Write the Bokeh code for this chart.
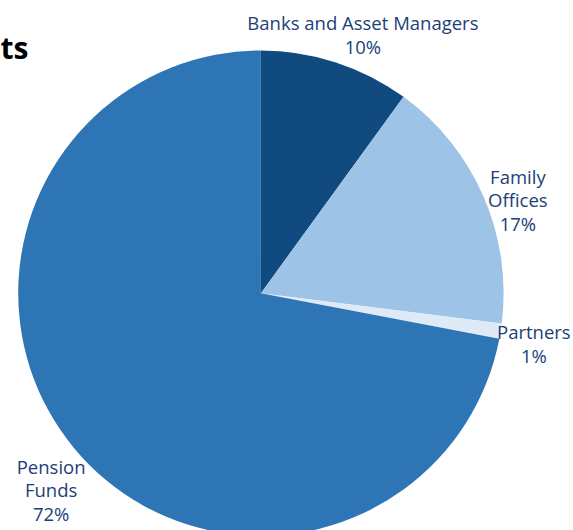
import math
from bokeh.plotting import figure
from bokeh.models import Range1d, ColumnDataSource
from bokeh.core.properties import value
from bokeh.embed import file_html
from bokeh.resources import INLINE

# ---- data ----
categories = ["Banks and Asset Managers", "Family Offices", "Partners", "Pension Funds"]
label_names = ["Banks and Asset Managers", "Family\nOffices", "Partners", "Pension\nFunds"]
values = [10, 17, 1, 72]
colors = ["#114A7F", "#9DC3E6", "#DEEBF7", "#2E75B6"]
title_text = "ts"

# ---- layout ----
W, H = 573, 530
PAGE_H = 530
cx, cy = 260.4, PAGE_H - 292.7
R = 242.7
R_LABEL = 280
label_nudge = [(15.5, -7.6), (0, -18), (-3.6, -6.5), (6, -18)]

total = float(sum(values))
starts, ends, lx, ly, texts = [], [], [], [], []
c0 = 0.0
for i, v in enumerate(values):
    c1 = c0 + v / total
    starts.append(math.pi / 2 - 2 * math.pi * c1)
    ends.append(math.pi / 2 - 2 * math.pi * c0)
    mid = math.pi / 2 - 2 * math.pi * (c0 + c1) / 2
    lx.append(cx + R_LABEL * math.cos(mid) + label_nudge[i][0])
    ly.append(cy + R_LABEL * math.sin(mid) + label_nudge[i][1])
    texts.append(f"{label_names[i]}\n{v}%")
    c0 = c1

src = ColumnDataSource(dict(start=starts, end=ends, color=colors, cat=categories))
lab = ColumnDataSource(dict(x=lx, y=ly, text=texts))

p = figure(width=W, height=H, output_backend="svg", toolbar_location=None,
           x_range=Range1d(0, W), y_range=Range1d(PAGE_H - H, PAGE_H),
           min_border=0, outline_line_color=None)
p.axis.visible = False
p.grid.visible = False
p.background_fill_color = "white"
p.border_fill_color = "white"

p.wedge(x=cx, y=cy, radius=R, start_angle="start", end_angle="end",
        fill_color="color", line_color=None, source=src)

p.text(x="x", y="y", text="text", source=lab, text_align="center",
       text_baseline="middle", text_font=value("Open Sans"),
       text_font_size="18.5px", text_color="#213E78", text_line_height=0.94)

p.text(x=[0], y=[PAGE_H - 47], text=[title_text], text_align="left",
       text_baseline="alphabetic", text_font=value("Open Sans"),
       text_font_size="30px", text_font_style="bold", text_color="#000000")

open("out.html", "w").write(file_html(p, INLINE))
